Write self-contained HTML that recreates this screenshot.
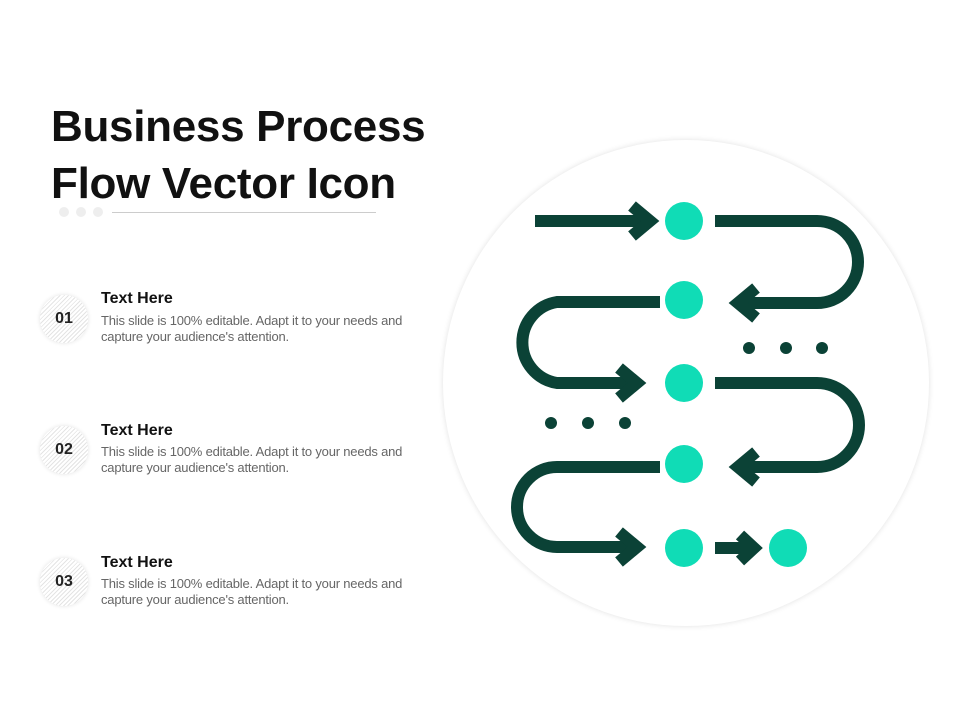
<!DOCTYPE html>
<html><head><meta charset="utf-8"><style>
body{margin:0;width:960px;height:720px;background:#fff;position:relative;overflow:hidden;font-family:"Liberation Sans",sans-serif}
.t{position:absolute;left:51px;top:98px;font-size:44px;font-weight:bold;line-height:57px;color:#111;letter-spacing:-0.3px}
.num{position:absolute;left:40px;width:48px;height:48px;border-radius:50%;background:repeating-linear-gradient(135deg,#fff 0 2px,#e4e4e4 2px 3px);box-shadow:0 0 4px rgba(0,0,0,0.12);font-weight:bold;font-size:16px;color:#222;text-align:center;line-height:48px}
.h{position:absolute;left:101px;font-size:16px;font-weight:bold;color:#111}
.p{position:absolute;left:101px;font-size:13px;line-height:16px;color:#666;width:330px;letter-spacing:-0.2px}
</style></head><body>
<div class="t">Business Process<br>Flow Vector Icon</div>
<div style="position:absolute;left:59px;top:207px;width:10px;height:10px;border-radius:50%;background:#eee"></div>
<div style="position:absolute;left:76px;top:207px;width:10px;height:10px;border-radius:50%;background:#eee"></div>
<div style="position:absolute;left:93px;top:207px;width:10px;height:10px;border-radius:50%;background:#eee"></div>
<div style="position:absolute;left:112px;top:212px;width:264px;height:1px;background:#ccc"></div>

<div class="num" style="top:295px">01</div>
<div class="h" style="top:290px">Text Here</div>
<div class="p" style="top:313px">This slide is 100% editable. Adapt it to your needs and capture your audience's attention.</div>
<div class="num" style="top:426px">02</div>
<div class="h" style="top:422px">Text Here</div>
<div class="p" style="top:444px">This slide is 100% editable. Adapt it to your needs and capture your audience's attention.</div>
<div class="num" style="top:558px">03</div>
<div class="h" style="top:554px">Text Here</div>
<div class="p" style="top:576px">This slide is 100% editable. Adapt it to your needs and capture your audience's attention.</div>

<div style="position:absolute;left:443px;top:140px;width:486px;height:486px;border-radius:50%;background:#fff;box-shadow:0 0 6px rgba(0,0,0,0.12)"></div>
<svg style="position:absolute;left:0;top:0" width="960" height="720">
<g fill="none" stroke="#0b4236" stroke-width="12" stroke-linejoin="miter">
<path d="M535 221H650"/><path d="M632 206L650 221L632 236"/>
<path d="M715 221H817A41 41 0 0 1 817 303H740"/><path d="M756 288L738 303L756 318"/>
<path d="M660 302H557A41 41 0 0 0 557 383H636"/><path d="M619 368L637 383L619 398"/>
<path d="M715 383H817A42 42 0 0 1 817 467H740"/><path d="M756 452L738 467L756 482"/>
<path d="M660 467H557A40 40 0 0 0 557 547H636"/><path d="M619 532L637 547L619 562"/>
<path d="M715 548H752"/><path d="M740 535L754 548L740 561"/>
</g>
<g fill="#10dcb6">
<circle cx="684" cy="221" r="19"/><circle cx="684" cy="300" r="19"/><circle cx="684" cy="383" r="19"/><circle cx="684" cy="464" r="19"/><circle cx="684" cy="548" r="19"/><circle cx="788" cy="548" r="19"/>
</g>
<g fill="#0b4236">
<circle cx="749" cy="348" r="6"/><circle cx="786" cy="348" r="6"/><circle cx="822" cy="348" r="6"/>
<circle cx="551" cy="423" r="6"/><circle cx="588" cy="423" r="6"/><circle cx="625" cy="423" r="6"/>
</g>
</svg>
</body></html>
